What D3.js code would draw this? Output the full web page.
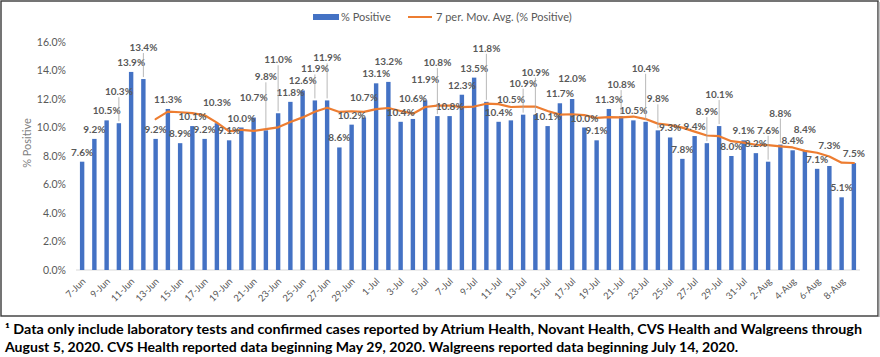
<!DOCTYPE html>
<html>
<head>
<meta charset="utf-8">
<script src="https://cdn.jsdelivr.net/npm/d3@7"></script>
<style>
  html, body { margin: 0; padding: 0; background: #fff; }
  svg { display: block; font-family: Lato, "Open Sans", sans-serif; }
</style>
</head>
<body>
<svg id="chart" width="880" height="357"></svg>
<script>
// ---- DATA ----
const categories = [
  "7-Jun","8-Jun","9-Jun","10-Jun","11-Jun","12-Jun","13-Jun","14-Jun","15-Jun","16-Jun",
  "17-Jun","18-Jun","19-Jun","20-Jun","21-Jun","22-Jun","23-Jun","24-Jun","25-Jun","26-Jun",
  "27-Jun","28-Jun","29-Jun","30-Jun","1-Jul","2-Jul","3-Jul","4-Jul","5-Jul","6-Jul",
  "7-Jul","8-Jul","9-Jul","10-Jul","11-Jul","12-Jul","13-Jul","14-Jul","15-Jul","16-Jul",
  "17-Jul","18-Jul","19-Jul","20-Jul","21-Jul","22-Jul","23-Jul","24-Jul","25-Jul","26-Jul",
  "27-Jul","28-Jul","29-Jul","30-Jul","31-Jul","1-Aug","2-Aug","3-Aug","4-Aug","5-Aug",
  "6-Aug","7-Aug","8-Aug","9-Aug"
];
const percentPositive = [
  7.6, 9.2, 10.5, 10.3, 13.9, 13.4, 9.2, 11.3, 8.9, 10.1,
  9.2, 10.3, 9.1, 10.0, 10.7, 9.8, 11.0, 11.8, 12.6, 11.9,
  11.9, 8.6, 10.2, 10.7, 13.1, 13.2, 10.4, 10.6, 11.9, 10.8,
  10.8, 12.3, 13.5, 11.8, 10.4, 10.5, 10.9, 10.9, 10.1, 11.7,
  12.0, 10.0, 9.1, 11.3, 10.8, 10.5, 10.4, 9.8, 9.3, 7.8,
  9.4, 8.9, 10.1, 8.0, 9.1, 8.2, 7.6, 8.8, 8.4, 8.4,
  7.1, 7.3, 5.1, 7.5
];
// 7-period moving average (starts at 13-Jun)
const movAvgStart = "13-Jun";
const movAvg = [
  10.59, 11.11, 11.07, 11.01, 10.86, 10.34, 9.73, 9.84, 9.76, 9.89,
  10.01, 10.39, 10.71, 11.11, 11.39, 11.09, 11.14, 11.10, 11.29, 11.37,
  11.16, 10.97, 11.44, 11.53, 11.54, 11.43, 11.47, 11.67, 11.64, 11.44,
  11.46, 11.47, 11.16, 10.90, 10.93, 10.87, 10.67, 10.73, 10.71, 10.77,
  10.59, 10.27, 10.17, 9.99, 9.71, 9.44, 9.39, 9.04, 8.94, 8.79,
  8.76, 8.67, 8.60, 8.36, 8.23, 7.97, 7.53, 7.51
];
const yTicks = [0, 2, 4, 6, 8, 10, 12, 14, 16];
const legendLabels = ["% Positive", "7 per. Mov. Avg. (% Positive)"];
const footnoteLines = [
  "\u00B9 Data only include laboratory tests and confirmed cases reported by Atrium Health, Novant Health, CVS Health and Walgreens through",
  "August 5, 2020. CVS Health reported data beginning May 29, 2020.  Walgreens reported data beginning July 14, 2020."
];

// ---- DRAW ----
const svg = d3.select("#chart");
const blue = "#4472C4", orange = "#ED7D31", grayText = "#595959";

// outer frame
svg.append("rect").attr("x", 1).attr("y", 1).attr("width", 877).attr("height", 315)
  .attr("fill", "none").attr("stroke", "#3a3a3a").attr("stroke-width", 1.4);
svg.append("line").attr("x1", 879).attr("x2", 879).attr("y1", 2).attr("y2", 317)
  .attr("stroke", "#9a9a9a").attr("stroke-width", 1.2);

const x = d3.scaleBand().domain(categories).range([76, 860]).paddingInner(0.64).paddingOuter(0.32);
const y = d3.scaleLinear().domain([0, 16]).range([270, 42]);

// y axis labels
const yAxis = svg.append("g").attr("transform", "translate(66,0)")
  .call(d3.axisLeft(y).tickValues(yTicks).tickSize(0).tickPadding(0).tickFormat(d => d.toFixed(1) + "%"));
yAxis.select(".domain").remove();
yAxis.selectAll("text").attr("fill", grayText).style("font-family", "Lato, sans-serif").style("font-size", "10.5px");

// x baseline
svg.append("line").attr("x1", 76).attr("x2", 860).attr("y1", y(0)).attr("y2", y(0))
  .attr("stroke", "#d9d9d9").attr("stroke-width", 1);

// x tick labels (every other day)
const xTickVals = categories.filter((d, i) => i % 2 === 0);
const xAxis = svg.append("g").attr("transform", `translate(0,${y(0)})`)
  .call(d3.axisBottom(x).tickValues(xTickVals).tickSize(0).tickPadding(0));
xAxis.select(".domain").remove();
xAxis.selectAll("text")
  .attr("fill", grayText).style("font-family", "Lato, sans-serif").style("font-size", "9.5px")
  .attr("text-anchor", "end").attr("dy", 0).attr("y", 0)
  .attr("transform", "translate(4,12) rotate(-45)");

// y title
svg.append("text").attr("transform", "translate(31,143) rotate(-90)")
  .attr("text-anchor", "middle").attr("fill", "#7f7f7f")
  .style("font-size", "11px").text("% Positive");

// bars
svg.append("g").selectAll("rect").data(percentPositive).join("rect")
  .attr("x", (d, i) => x(categories[i]))
  .attr("width", x.bandwidth())
  .attr("y", d => y(d))
  .attr("height", d => y(0) - y(d))
  .attr("fill", blue);

// moving average line
const startIdx = categories.indexOf(movAvgStart);
const line = d3.line()
  .x((d, i) => x(categories[startIdx + i]) + x.bandwidth() / 2)
  .y(d => y(d));
svg.append("path").datum(movAvg).attr("d", line)
  .attr("fill", "none").attr("stroke", orange).attr("stroke-width", 2.2)
  .attr("stroke-linejoin", "round").attr("stroke-linecap", "round");

// data labels with simple collision avoidance (leader lines when lifted)
const labelG = svg.append("g");
const leaderG = svg.append("g");
const placed = [];
const labH = 10;
percentPositive.forEach((d, i) => {
  const cx = x(categories[i]) + x.bandwidth() / 2;
  const t = labelG.append("text")
    .attr("x", cx).attr("text-anchor", "middle")
    .attr("fill", grayText)
    .style("font-size", "10px").style("font-weight", "bold")
    .text(d.toFixed(1) + "%");
  const w = t.node().getComputedTextLength();
  const base = y(d) - 6;
  const offsets = [0, 11, 22, 33, 44];
  let chosen = base;
  for (const off of offsets) {
    const by = base - off;
    const box = { x0: cx - w / 2, x1: cx + w / 2, y0: by - labH + 1, y1: by + 1 };
    const hit = placed.some(p => !(box.x1 <= p.x0 || box.x0 >= p.x1 || box.y1 <= p.y0 || box.y0 >= p.y1));
    chosen = by;
    if (!hit) break;
  }
  t.attr("y", chosen);
  placed.push({ x0: cx - w / 2, x1: cx + w / 2, y0: chosen - labH + 1, y1: chosen + 1 });
  if (base - chosen > 12) {
    leaderG.append("line").attr("x1", cx).attr("x2", cx)
      .attr("y1", chosen + 2).attr("y2", y(d) - 2)
      .attr("stroke", "#a6a6a6").attr("stroke-width", 0.8);
  }
});

// legend
const lg = svg.append("g");
lg.append("rect").attr("x", 313).attr("y", 14).attr("width", 26).attr("height", 6).attr("fill", blue);
lg.append("text").attr("x", 341).attr("y", 21).attr("fill", grayText).style("font-size", "11px").text(legendLabels[0]);
lg.append("line").attr("x1", 408).attr("x2", 432).attr("y1", 17).attr("y2", 17)
  .attr("stroke", orange).attr("stroke-width", 2);
lg.append("text").attr("x", 436).attr("y", 21).attr("fill", grayText).style("font-size", "11px").text(legendLabels[1]);

// footnote
const fnWidths = [857, 733];
svg.append("g").selectAll("text").data(footnoteLines).join("text")
  .attr("x", 5).attr("y", (d, i) => 334 + i * 18)
  .attr("fill", "#000").style("font-size", "13px").style("font-weight", "bold")
  .attr("textLength", (d, i) => fnWidths[i]).attr("lengthAdjust", "spacingAndGlyphs")
  .text(d => d);
</script>
</body>
</html>
